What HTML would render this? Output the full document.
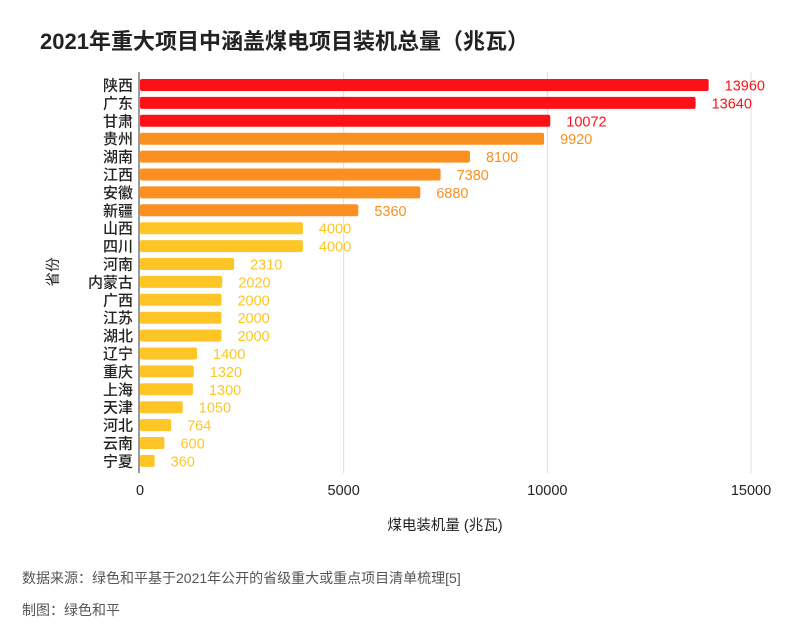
<!DOCTYPE html>
<html><head><meta charset="utf-8"><style>
body{margin:0;background:#fff;font-family:"Liberation Sans","Noto Sans CJK SC",sans-serif;}
#wrap{position:relative;width:804px;height:637px;overflow:hidden;}
.t{position:absolute;white-space:nowrap;}
</style></head><body>
<div id="wrap">
<div class="t" style="left:40px;top:24px;font-size:22px;font-weight:bold;color:#222;">2021年重大项目中涵盖煤电项目装机总量（兆瓦）</div>
<svg id="chart" width="804" height="637" style="position:absolute;left:0;top:0"></svg>
<div class="t" style="left:22px;top:568px;font-size:14px;color:#555;">数据来源：绿色和平基于2021年公开的省级重大或重点项目清单梳理[5]</div>
<div class="t" style="left:22px;top:600px;font-size:14px;color:#555;">制图：绿色和平</div>
</div>
<script>
const categories=["陕西","广东","甘肃","贵州","湖南","江西","安徽","新疆","山西","四川","河南","内蒙古","广西","江苏","湖北","辽宁","重庆","上海","天津","河北","云南","宁夏"];
const values=[13960,13640,10072,9920,8100,7380,6880,5360,4000,4000,2310,2020,2000,2000,2000,1400,1320,1300,1050,764,600,360];
const ticks=[0,5000,10000,15000];
const NS="http://www.w3.org/2000/svg";
const svg=document.getElementById('chart');
const x0=140,x1=751,xmax=15000,y0=85,step=17.9,bh=12;
const xs=v=>x0+v/xmax*(x1-x0);
const ys=i=>y0+i*step;
function color(i){return i<3?"#fe1116":i<8?"#fb9020":"#fdc626";}
function mk(tag,attrs){const e=document.createElementNS(NS,tag);for(const k in attrs)e.setAttribute(k,attrs[k]);svg.appendChild(e);return e;}
ticks.forEach((t,k)=>{
  if(t>0){const g=mk('line',{x1:xs(t),x2:xs(t),y1:72,y2:473,stroke:'#ddd','stroke-width':1});
  
  }
  const tx=mk('text',{x:xs(t),y:495,'text-anchor':'middle','font-size':14.5,fill:'#222'});
  tx.textContent=t;
  
  
});
const ax=mk('line',{x1:x0-1,x2:x0-1,y1:72,y2:473,stroke:'#333','stroke-width':1});


categories.forEach((c,i)=>{
  const y=ys(i);
  const r=mk('rect',{x:x0,y:y-bh/2,width:Math.max(0,xs(values[i])-x0),height:bh,rx:2,fill:color(i)});
  
  
  const l=mk('text',{x:x0-7,y:y+5.5,'text-anchor':'end','font-size':15,'font-weight':'500',fill:'#222'});
  l.textContent=c;
  
  
  const v=mk('text',{x:xs(values[i])+16,y:y+5.5,'font-size':14.5,fill:color(i)});
  v.textContent=values[i];
  
  
});
const xt=mk('text',{x:445,y:530,'text-anchor':'middle','font-size':14.5,fill:'#222'});
xt.textContent="煤电装机量 (兆瓦)";


const yt=mk('text',{x:0,y:0,'text-anchor':'middle','font-size':14.5,fill:'#222',transform:'translate(58,272) rotate(-90)'});
yt.textContent="省份";


</script>
</body></html>
